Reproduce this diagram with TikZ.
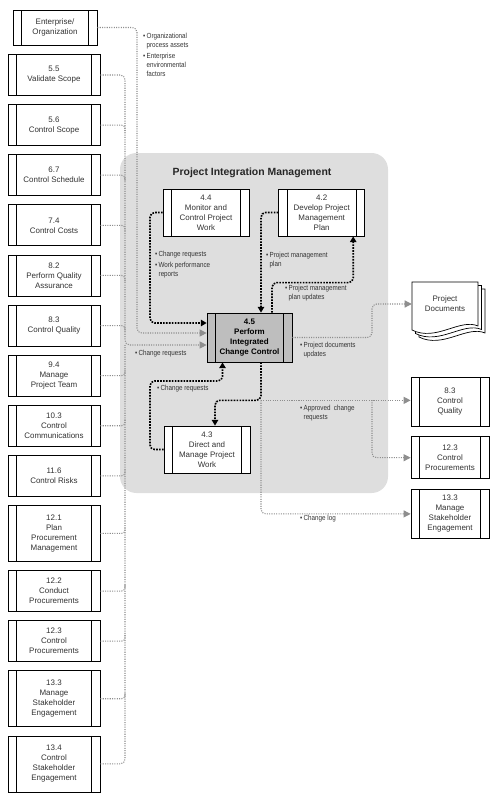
\documentclass[tikz,border=0pt]{standalone}
\usepackage{fontspec}
\setmainfont{Liberation Sans}
\newfontfamily\narrowfont[FakeStretch=0.85]{Liberation Sans}
\usetikzlibrary{positioning,arrows.meta,calc}

\definecolor{regiongray}{HTML}{DEDEDE}
\definecolor{keygray}{HTML}{BEBEBE}
\definecolor{flowgray}{HTML}{8E8E8E}
\definecolor{textgray}{HTML}{333333}

\newcommand{\bitem}{\textbullet\,}
\newcommand{\bcont}{\hphantom{\textbullet\,}}

\begin{document}
\begin{tikzpicture}[
    x=0.03cm, y=-0.03cm,
    proc/.style={draw,line width=0.6pt,fill=white,align=center,text=textgray,
      font=\fontsize{6.8}{8.5}\selectfont,inner sep=1pt,
      minimum width=2.76cm,minimum height=1.23cm,
      path picture={
        \draw[line width=0.6pt] ([xshift=0.25cm]path picture bounding box.north west) -- ([xshift=0.25cm]path picture bounding box.south west);
        \draw[line width=0.6pt] ([xshift=-0.25cm]path picture bounding box.north east) -- ([xshift=-0.25cm]path picture bounding box.south east);
      }},
    tall/.style={minimum height=1.68cm},
    inproc/.style={proc,minimum width=2.58cm,minimum height=1.41cm},
    outproc/.style={proc,minimum width=2.34cm,minimum height=1.47cm},
    lbl/.style={anchor=north west,inner sep=0pt,align=left,text=textgray,
      font=\narrowfont\fontsize{6.3}{7.7}\selectfont},
    gline/.style={flowgray,line width=0.9pt,dash pattern=on 0.9pt off 1.1pt},
    garr/.style={gline,-{Triangle[width=6pt,length=6pt]}},
    blk/.style={black,line width=1.4pt,dash pattern=on 1.4pt off 1.1pt,-{Triangle[width=5.5pt,length=5pt]}}
  ]
    \useasboundingbox (0,0) rectangle (499,800);

    % integration region
    \fill[regiongray,rounded corners=14pt] (120,153) rectangle (388,493);
    \node[font=\bfseries\fontsize{8.9}{10}\selectfont,text=black!85] (pimtitle) at (252,173) {Project Integration Management};

    % inputs on the left
    \node[proc,minimum width=2.52cm,minimum height=1.05cm] (ent) at (55,27.5) {Enterprise/\\Organization};
    \node[proc] (v55) at (54,75) {5.5\\Validate Scope};
    \node[proc,below=0.252cm of v55] (v56) {5.6\\Control Scope};
    \node[proc,below=0.252cm of v56] (v67) {6.7\\Control Schedule};
    \node[proc,below=0.252cm of v67] (v74) {7.4\\Control Costs};
    \node[proc,below=0.252cm of v74] (v82) {8.2\\Perform Quality\\Assurance};
    \node[proc,below=0.252cm of v82] (v83) {8.3\\Control Quality};
    \node[proc,below=0.252cm of v83] (v94) {9.4\\Manage\\Project Team};
    \node[proc,below=0.252cm of v94] (v103) {10.3\\Control\\Communications};
    \node[proc,below=0.252cm of v103] (v116) {11.6\\Control Risks};
    \node[proc,tall,below=0.252cm of v116] (v121) {12.1\\Plan\\Procurement\\Management};
    \node[proc,below=0.252cm of v121] (v122) {12.2\\Conduct\\Procurements};
    \node[proc,below=0.252cm of v122] (v123) {12.3\\Control\\Procurements};
    \node[proc,tall,below=0.252cm of v123] (v133) {13.3\\Manage\\Stakeholder\\Engagement};
    \node[proc,tall,below=0.252cm of v133] (v134) {13.4\\Control\\Stakeholder\\Engagement};

    % integration processes
    \node[inproc] (n44) at (206,212.5) {4.4\\Monitor and\\Control Project\\Work};
    \node[inproc,right=0.87cm of n44] (n42) {4.2\\Develop Project\\Management\\Plan};
    \node[inproc,minimum width=2.55cm,minimum height=1.47cm,fill=keygray,text=black,
      font=\bfseries\fontsize{6.8}{8.5}\selectfont] (n45) at (249.5,337.5) {4.5\\Perform\\Integrated\\Change Control};
    \node[inproc] (n43) at (207,449.5) {4.3\\Direct and\\Manage Project\\Work};

    % outputs on the right
    \foreach \o in {7,3.5,0}
      \draw[fill=white,line width=0.6pt,shift={(\o,\o)}] (412,282) -- (478,282) -- (478,326)
        .. controls (460,318) and (436,342) .. (412,330) -- cycle;
    \node[align=center,text=textgray,font=\fontsize{6.8}{8.5}\selectfont,
      minimum width=1.98cm,minimum height=1.32cm,inner sep=0pt] (docs) at (445,304) {Project\\Documents};
    \node[outproc] (q83) at (450,401.5) {8.3\\Control\\Quality};
    \node[outproc,minimum height=1.26cm,below=0.3cm of q83] (p123) {12.3\\Control\\Procurements};
    \node[outproc,below=0.3cm of p123] (s133) {13.3\\Manage\\Stakeholder\\Engagement};

    % gray inputs
    \coordinate (bus) at (125,345);
    \coordinate (eev) at (137,333);
    \draw[garr,rounded corners=4pt] (ent.east) -| (eev) -- (eev -| n45.west);
    \draw[garr,rounded corners=4pt] (v55.east) -| (bus) -- (bus -| n45.west);
    \draw[gline,rounded corners=4pt] (v134.east) -| (bus);
    \draw[gline,rounded corners=3pt] (v56.east) -| ($(v56.east -| bus)+(0,6)$);
    \draw[gline,rounded corners=3pt] (v67.east) -| ($(v67.east -| bus)+(0,6)$);
    \draw[gline,rounded corners=3pt] (v74.east) -| ($(v74.east -| bus)+(0,6)$);
    \draw[gline,rounded corners=3pt] (v82.east) -| ($(v82.east -| bus)+(0,6)$);
    \draw[gline,rounded corners=3pt] (v83.east) -| ($(v83.east -| bus)+(0,6)$);
    \draw[gline,rounded corners=3pt] (v94.east) -| ($(v94.east -| bus)+(0,-6)$);
    \draw[gline,rounded corners=3pt] (v103.east) -| ($(v103.east -| bus)+(0,-6)$);
    \draw[gline,rounded corners=3pt] (v116.east) -| ($(v116.east -| bus)+(0,-6)$);
    \draw[gline,rounded corners=3pt] (v121.east) -| ($(v121.east -| bus)+(0,-6)$);
    \draw[gline,rounded corners=3pt] (v122.east) -| ($(v122.east -| bus)+(0,-6)$);
    \draw[gline,rounded corners=3pt] (v123.east) -| ($(v123.east -| bus)+(0,-6)$);
    \draw[gline,rounded corners=3pt] (v133.east) -| ($(v133.east -| bus)+(0,-6)$);

    % black flows inside the region
    \coordinate (c44) at (150,323);
    \coordinate (c43) at (150,381);
    \coordinate (jn) at ($(n45.south)+(11.5,38)$);
    \draw[blk,rounded corners=4pt] (n44.west) -| (c44) -- (c44 -| n45.west);
    \draw[blk,rounded corners=4pt] (n42.west) -| ($(n45.north)+(11.5,0)$);
    \draw[blk,rounded corners=4pt] ($(n45.north)+(22.5,0)$) -- ++(0,-30) -| ($(n42.south)+(31.5,0)$);
    \draw[blk,rounded corners=4pt] (n43.west) -| (c43) -| ($(n45.south)+(-27,0)$);
    \draw[blk,rounded corners=4pt] ($(n45.south)+(11.5,0)$) -- (jn) -| ($(n43.north)+(8,0)$);

    % gray outputs
    \coordinate (rx) at (372,400);
    \draw[garr,rounded corners=4pt] (n45.east) -- (n45.east -| rx) |- (docs.west);
    \draw[garr] (jn) -- (jn -| q83.west);
    \draw[garr,rounded corners=4pt] (rx) |- (p123.west);
    \draw[garr,rounded corners=4pt] (jn) |- (s133.west);

    % labels
    \node[lbl] (lopa) at (143,33) {\bitem Organizational\\\bcont process assets\\[1.5pt]\bitem Enterprise\\\bcont environmental\\\bcont factors};
    \node[lbl] (lcr1) at (155,251) {\bitem Change requests\\[1.5pt]\bitem Work performance\\\bcont reports};
    \node[lbl] (lpmp) at (266,252) {\bitem Project management\\\bcont plan};
    \node[lbl] (lpmu) at (285,285) {\bitem Project management\\\bcont plan updates};
    \node[lbl] (lcr2) at (135,350) {\bitem Change requests};
    \node[lbl] (lpdu) at (300,342) {\bitem Project documents\\\bcont updates};
    \node[lbl] (lcr3) at (157,385) {\bitem Change requests};
    \node[lbl] (lacr) at (300,405) {\bitem Approved\ \ change\\\bcont requests};
    \node[lbl] (lclg) at (300,515) {\bitem Change log};
  \end{tikzpicture}
\end{document}
